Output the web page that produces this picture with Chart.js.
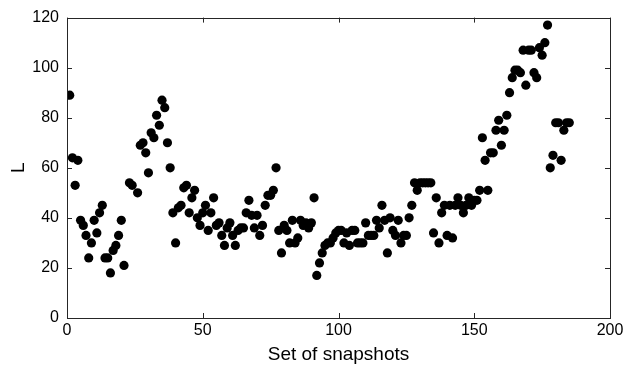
<!DOCTYPE html>
<html>
<head>
<meta charset="utf-8">
<script src="https://cdn.jsdelivr.net/npm/chart.js@4"></script>
<style>
  body { margin: 0; background: #fff; }
</style>
</head>
<body>
<canvas id="chart" width="628" height="366"></canvas>
<script>
const snapshot = [
  1, 2, 3, 4, 5, 6, 7, 8, 9, 10, 11, 12, 13, 14, 15, 16, 17, 18, 19, 20, 21,
  23, 24, 26,
  27, 28, 29, 30, 31, 32, 33, 34, 35, 36, 37, 38,
  39, 40, 41, 42, 43, 44, 45, 46, 47, 48, 49, 50,
  51, 52, 53, 54, 55, 56, 57, 58, 59, 60,
  61, 62, 63, 64, 65, 66, 67, 68, 69, 70,
  71, 72, 73, 74, 75, 76, 77, 78, 79, 80,
  81, 82, 83, 84, 85, 86, 87, 88, 89, 90,
  91, 92, 93, 94, 95, 96, 97, 98, 99, 100,
  101, 102, 103, 104, 105, 106, 107, 108, 109, 110,
  111, 112, 113, 114, 115, 116, 117, 118, 119, 120,
  121, 122, 123, 124, 125, 126, 127, 128, 129, 130,
  131, 132, 133, 134, 135, 136, 137, 138, 139, 140,
  141, 142, 143, 144, 145, 146, 147, 148, 149, 150,
  151, 152, 153, 154, 155, 156, 157, 158, 159, 160,
  161, 162, 163, 164, 165, 166, 167, 168, 169, 170,
  171, 172, 173, 174, 175, 176, 177, 178, 179, 180,
  181, 182, 183, 184, 185
];
const L = [
  89, 64, 53, 63, 39, 37, 33, 24, 30, 39, 34, 42, 45, 24, 24, 18, 27, 29, 33, 39, 21,
  54, 53, 50,
  69, 70, 66, 58, 74, 72, 81, 77, 87, 84, 70, 60,
  42, 30, 44, 45, 52, 53, 42, 48, 51, 40, 37, 42,
  45, 35, 42, 48, 37, 38, 33, 29, 36, 38,
  33, 29, 35, 36, 36, 42, 47, 41, 36, 41,
  33, 37, 45, 49, 49, 51, 60, 35, 26, 37,
  35, 30, 39, 30, 32, 39, 37, 38, 36, 38,
  48, 17, 22, 26, 29, 30, 30, 32, 34, 35,
  35, 30, 34, 29, 35, 35, 30, 30, 30, 38,
  33, 33, 33, 39, 36, 45, 39, 26, 40, 35,
  33, 39, 30, 33, 33, 40, 45, 54, 51, 54,
  54, 54, 54, 54, 34, 48, 30, 42, 45, 33,
  45, 32, 45, 48, 45, 42, 45, 48, 45, 47,
  47, 51, 72, 63, 51, 66, 66, 75, 79, 69,
  75, 81, 90, 96, 99, 99, 98, 107, 93, 107,
  107, 98, 96, 108, 105, 110, 117, 60, 65, 78,
  78, 63, 75, 78, 78
];
const xTicks = [0, 50, 100, 150, 200];
const yTicks = [0, 20, 40, 60, 80, 100, 120];

const fontFamily = '"Liberation Sans", Arial, Helvetica, sans-serif';
const points = snapshot.map((s, i) => ({ x: s, y: L[i] }));

// matlab style box with inward ticks on all four sides
const boxPlugin = {
  id: 'box',
  afterDraw(chart) {
    const { ctx, chartArea: a, scales } = chart;
    const t = 5;
    ctx.save();
    ctx.strokeStyle = '#262626';
    ctx.lineWidth = 1;
    ctx.strokeRect(Math.round(a.left) + 0.5, Math.round(a.top) + 0.5,
      Math.round(a.right - a.left), Math.round(a.bottom - a.top));
    ctx.beginPath();
    xTicks.forEach(v => {
      const px = Math.round(scales.x.getPixelForValue(v)) + 0.5;
      ctx.moveTo(px, a.bottom); ctx.lineTo(px, a.bottom - t);
      ctx.moveTo(px, a.top); ctx.lineTo(px, a.top + t);
    });
    yTicks.forEach(v => {
      const py = Math.round(scales.y.getPixelForValue(v)) + 0.5;
      ctx.moveTo(a.left, py); ctx.lineTo(a.left + t, py);
      ctx.moveTo(a.right, py); ctx.lineTo(a.right - t, py);
    });
    ctx.stroke();
    ctx.restore();
  }
};

new Chart('chart', {
  type: 'scatter',
  data: {
    datasets: [{
      data: points,
      backgroundColor: '#000',
      borderColor: '#000',
      pointRadius: 4.6,
      pointBorderWidth: 0
    }]
  },
  options: {
    responsive: false,
    animation: false,
    layout: { padding: { left: 0, right: 18, top: 16, bottom: 0 } },
    plugins: { legend: { display: false }, tooltip: { enabled: false } },
    scales: {
      x: {
        type: 'linear',
        min: 0,
        max: 200,
        afterBuildTicks: s => { s.ticks = xTicks.map(v => ({ value: v })); },
        ticks: { color: '#000', font: { family: fontFamily, size: 16 }, padding: 3, maxRotation: 0 },
        grid: { display: false, drawTicks: false },
        border: { display: false },
        title: {
          display: true,
          text: 'Set of snapshots',
          color: '#000',
          font: { family: fontFamily, size: 19 },
          padding: { top: 0, bottom: 0 }
        },
        afterFit: s => { s.height = 48; }
      },
      y: {
        min: 0,
        max: 120,
        afterBuildTicks: s => { s.ticks = yTicks.map(v => ({ value: v })); },
        ticks: { color: '#000', font: { family: fontFamily, size: 16 }, padding: 8 },
        grid: { display: false, drawTicks: false },
        border: { display: false },
        title: {
          display: true,
          text: 'L',
          color: '#000',
          font: { family: fontFamily, size: 19 },
          padding: { top: 7, bottom: 0 }
        },
        afterFit: s => { s.width = 67; }
      }
    }
  },
  plugins: [boxPlugin]
});
</script>
</body>
</html>
